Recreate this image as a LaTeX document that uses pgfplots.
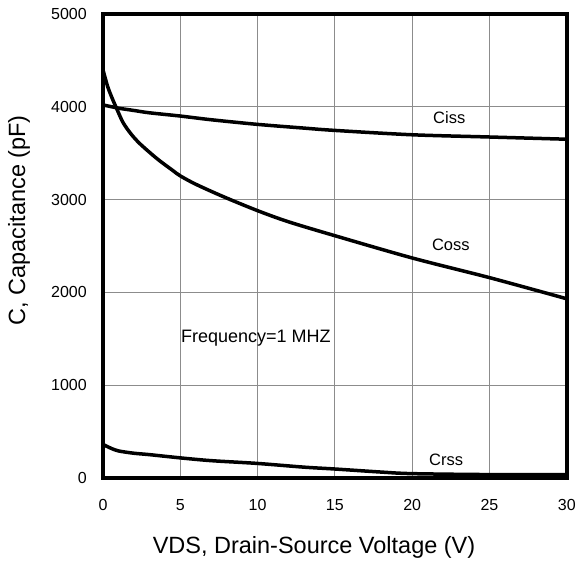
\documentclass[border=0pt]{standalone}
\usepackage{fontspec}
\setmainfont{Liberation Sans}
\usepackage{pgfplots}
\pgfplotsset{compat=1.18}

\begin{document}
\begin{tikzpicture}
\begin{axis}[
    scale only axis,
    width=464bp, height=464bp,
    xmin=0, xmax=30, ymin=0, ymax=5000,
    xtick={0,5,...,30},
    ytick={0,1000,...,5000},
    grid=major,
    grid style={draw=black!45, line width=0.8bp},
    axis line style={line width=3.8bp},
    major tick length=0pt,
    tick label style={font=\fontsize{16bp}{18bp}\selectfont},
    /pgf/number format/assume math mode=true,
    /pgf/number format/1000 sep={},
    xticklabel style={anchor=center, yshift=-27bp},
    yticklabel style={anchor=east, inner sep=0pt, xshift=-16bp},
    every axis x label/.style={at={(axis description cs:0.455,-0.149)}, anchor=center},
    every axis y label/.style={at={(axis description cs:-0.181,0.555)}, rotate=90, anchor=center},
    label style={font=\fontsize{23.5bp}{26bp}\selectfont},
    xlabel={VDS, Drain-Source Voltage (V)},
    ylabel={C, Capacitance (pF)},
    clip=false,
]
% Ciss
\addplot[black, line width=3.5bp, smooth] coordinates {
    (0,4020) (1,3985) (2,3960) (3,3935) (5,3900) (7,3860) (10,3810)
    (13,3770) (15,3745) (20,3698) (25,3674) (30,3650)
};
% Coss
\addplot[black, line width=3.5bp, smooth] coordinates {
    (0,4400) (0.3,4220) (0.6,4090) (0.9,3975) (1.3,3830) (1.8,3710)
    (2.4,3600) (3.5,3440) (4.5,3315) (5,3255) (6,3165) (7.8,3030)
    (10,2880) (12,2760) (15,2610) (20,2370) (25,2158) (30,1930)
};
% Crss
\addplot[black, line width=3.5bp, smooth] coordinates {
    (0,360) (0.5,320) (1,290) (2,265) (3,250) (5,215) (7,185) (10,155)
    (13,115) (15,95) (18,62) (20,45) (25,35) (30,35)
};
\node[font=\fontsize{16.5bp}{18bp}\selectfont] at (axis cs:22.4,3880) {Ciss};
\node[font=\fontsize{16.5bp}{18bp}\selectfont] at (axis cs:22.5,2510) {Coss};
\node[font=\fontsize{16.5bp}{18bp}\selectfont] at (axis cs:22.2,194) {Crss};
\node[font=\fontsize{18bp}{20bp}\selectfont, anchor=west, inner sep=0pt] at (axis cs:5.05,1510) {Frequency=1 MHZ};
\end{axis}
\path (current axis.south west) ++(-103bp,-90bp) (current axis.north east) ++(12bp,14bp);
\end{tikzpicture}
\end{document}
